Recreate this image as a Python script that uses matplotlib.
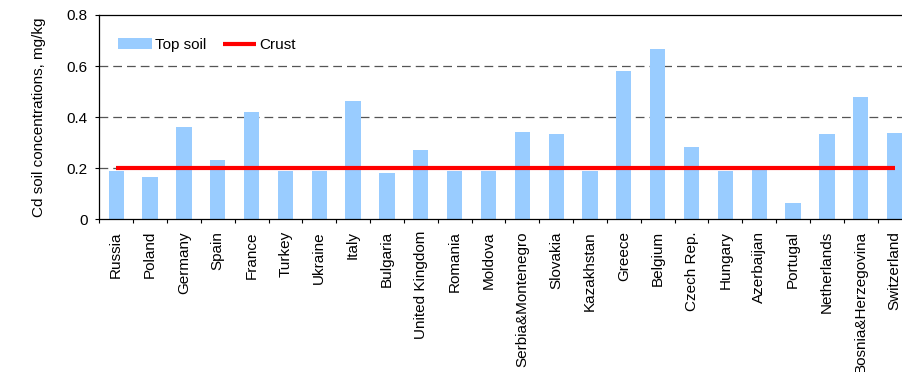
import matplotlib
matplotlib.use("Agg")
from matplotlib import pyplot as plt
import numpy as np

plt.rcParams['font.family'] = ['Liberation Sans', 'DejaVu Sans']

countries = ["Russia", "Poland", "Germany", "Spain", "France", "Turkey", "Ukraine",
             "Italy", "Bulgaria", "United Kingdom", "Romania", "Moldova",
             "Serbia&Montenegro", "Slovakia", "Kazakhstan", "Greece", "Belgium",
             "Czech Rep.", "Hungary", "Azerbaijan", "Portugal", "Netherlands",
             "Bosnia&Herzegovina", "Switzerland"]
top_soil = [0.19, 0.166, 0.361, 0.232, 0.42, 0.19, 0.19, 0.463, 0.181, 0.271,
            0.19, 0.19, 0.342, 0.334, 0.19, 0.581, 0.667, 0.283, 0.19, 0.195,
            0.064, 0.334, 0.479, 0.337]
crust = [0.2] * len(countries)

fs = 11

fig = plt.figure(figsize=(9.02, 3.72), dpi=100)
# axes runs a little past the right edge, as in the original crop
ax = fig.add_axes([99.3 / 902, 1 - 219.3 / 372, (911.5 - 99.3) / 902, (219.3 - 15) / 372])

x = np.arange(len(countries))
bars = ax.bar(x, top_soil, width=0.45, color="#99CCFF", label="Top soil", zorder=2)
line, = ax.plot(x, crust, color="#FF0000", lw=3, label="Crust", zorder=3, solid_capstyle="butt")

ax.set_xlim(-0.5, len(countries) - 0.5)
ax.set_ylim(0, 0.8)
ax.set_yticks([0, 0.2, 0.4, 0.6, 0.8])
ax.set_yticklabels(["0", "0.2", "0.4", "0.6", "0.8"], fontsize=fs)
for yv in [0.2, 0.4, 0.6]:
    ax.axhline(yv, color="#555555", lw=0.9, ls=(0, (7, 4)), zorder=1)

ax.set_xticks(x)
ax.set_xticklabels(countries, rotation=90, fontsize=fs)
ax.set_xticks(np.arange(len(countries) + 1) - 0.5, minor=True)
ax.tick_params(axis="x", which="major", length=0, pad=8.5)
ax.tick_params(axis="x", which="minor", length=3, direction="out", width=0.8)
ax.tick_params(axis="y", length=3, direction="out", width=0.8, pad=5.5)

ax.spines["right"].set_visible(False)
for s in ["left", "bottom", "top"]:
    ax.spines[s].set_linewidth(0.9)

ax.set_ylabel("Cd soil concentrations, mg/kg", fontsize=fs, labelpad=15)

ax.legend([bars, line], ["Top soil", "Crust"], loc="upper left", ncol=2, frameon=False,
          fontsize=fs, bbox_to_anchor=(0.023, 0.888), borderaxespad=0, borderpad=0,
          handlelength=2.2, columnspacing=1.1, handletextpad=0.2)

fig.savefig("out.png", dpi=100)
